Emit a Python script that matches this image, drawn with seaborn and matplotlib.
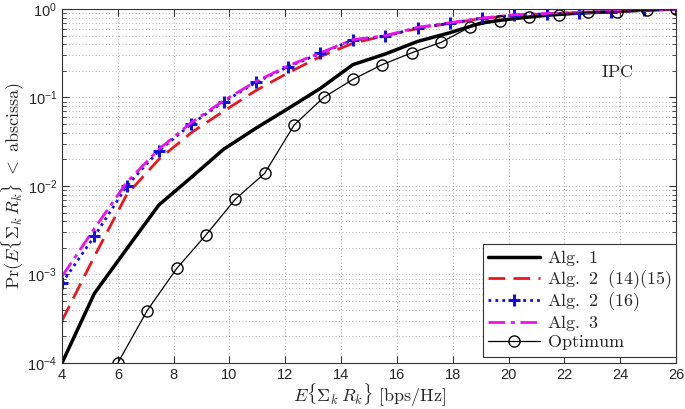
import numpy as np
import pandas as pd
import matplotlib
matplotlib.use("Agg")
import matplotlib.pyplot as plt
import matplotlib.ticker as mticker
import seaborn as sns

# x positions of the algorithm curves and of the optimum curve
x_alg = [4.0, 5.16, 6.32, 7.47, 8.63, 9.79, 10.95, 12.1, 13.26, 14.42,
         15.58, 16.74, 17.9, 19.05, 20.21, 21.37, 22.53, 23.68, 24.84, 26.0]
x_opt = [6.0, 7.05, 8.11, 9.16, 10.21, 11.26, 12.32, 13.37, 14.42, 15.47,
         16.53, 17.58, 18.63, 19.68, 20.74, 21.79, 22.84, 23.89, 24.95, 26.0]

alg1 = [1.0e-4, 6.1e-4, 1.95e-3, 6.1e-3, 0.0125, 0.026, 0.045, 0.075, 0.127, 0.235,
        0.31, 0.43, 0.54, 0.70, 0.78, 0.85, 0.90, 0.93, 0.97, 1.0]
alg2_1415 = [3.0e-4, 1.6e-3, 8.0e-3, 0.020, 0.040, 0.070, 0.12, 0.19, 0.29, 0.41,
             0.50, 0.60, 0.69, 0.78, 0.85, 0.88, 0.91, 0.93, 0.97, 1.0]
alg2_16 = [8.0e-4, 2.7e-3, 0.010, 0.025, 0.050, 0.089, 0.148, 0.223, 0.315, 0.446,
           0.49, 0.615, 0.69, 0.785, 0.855, 0.88, 0.91, 0.93, 0.97, 1.0]
alg3 = [9.5e-4, 3.3e-3, 0.011, 0.026, 0.052, 0.092, 0.152, 0.228, 0.32, 0.45,
        0.50, 0.62, 0.70, 0.79, 0.86, 0.89, 0.92, 0.94, 0.97, 1.0]
optimum = [1.0e-4, 3.9e-4, 1.17e-3, 2.8e-3, 7.1e-3, 0.0139, 0.049, 0.10, 0.16, 0.235,
           0.32, 0.42, 0.63, 0.74, 0.82, 0.86, 0.92, 0.93, 0.97, 1.0]

sns.set_style("ticks")
plt.rcParams["font.family"] = ["Liberation Sans", "DejaVu Sans"]
plt.rcParams["mathtext.fontset"] = "custom"
plt.rcParams["mathtext.rm"] = "Liberation Sans"
plt.rcParams["mathtext.it"] = "Liberation Sans:italic"
plt.rcParams["mathtext.bf"] = "Liberation Sans:bold"

fig = plt.figure(figsize=(6.85, 4.09), dpi=100)
ax = fig.add_axes([0.0905, 0.1125, 0.8965, 0.8655])

sns.lineplot(x=x_alg, y=alg1, ax=ax, color="black", linewidth=2.5,
             label=r"$\mathrm{Alg.\ 1}$")
sns.lineplot(x=x_alg, y=alg2_1415, ax=ax, color="#e8191e", linewidth=2,
             linestyle=(0, (6, 3)), label=r"$\mathrm{Alg.\ 2\ \ (14)(15)}$")
sns.lineplot(x=x_alg, y=alg2_16, ax=ax, color="#1010e0", linewidth=2,
             linestyle=(0, (1, 1.5)), marker="+", markersize=9, markeredgewidth=2.2,
             markeredgecolor="#1010e0", label=r"$\mathrm{Alg.\ 2\ \ (16)}$")
sns.lineplot(x=x_alg, y=alg3, ax=ax, color="#ee10ee", linewidth=2,
             linestyle=(0, (6, 2, 1.5, 2)), label=r"$\mathrm{Alg.\ 3}$")
sns.lineplot(x=x_opt, y=optimum, ax=ax, color="black", linewidth=0.9,
             marker="o", markersize=8, markerfacecolor="none", markeredgecolor="black",
             markeredgewidth=1.0, label=r"$\mathrm{Optimum}$")

ax.set_yscale("log")
ax.set_xlim(4, 26)
ax.set_ylim(1e-4, 1)
ax.set_xticks(np.arange(4, 27, 2))
ax.yaxis.set_major_locator(mticker.LogLocator(base=10, numticks=10))
ax.yaxis.set_minor_locator(mticker.LogLocator(base=10, subs=np.arange(2, 10), numticks=20))
ax.yaxis.set_minor_formatter(mticker.NullFormatter())

ax.grid(True, which="major", axis="both", color="#999999", linestyle=(0, (1, 3)), linewidth=0.6)
ax.grid(True, which="minor", axis="y", color="#999999", linestyle=(0, (1, 3)), linewidth=0.6)
ax.tick_params(which="both", direction="in", top=True, right=True, labelsize=10.5,
               color="#333333")
ax.tick_params(which="major", length=5)
ax.tick_params(which="minor", length=3)
for s in ax.spines.values():
    s.set_linewidth(0.8)
    s.set_color("#333333")

ax.set_xlabel(r"$E\{\Sigma_k\, R_k\}\ \mathrm{[bps/Hz]}$", fontsize=13, math_fontfamily="cm",
              labelpad=0)
ax.set_ylabel(r"$\mathrm{Pr}(E\{\Sigma_k\, R_k\}\ <\ \mathrm{abscissa})$", fontsize=13,
              math_fontfamily="cm", labelpad=1)
ax.text(23.9, 0.19, r"$\mathrm{IPC}$", fontsize=13, math_fontfamily="cm",
        ha="center", va="center")

leg = ax.legend(loc="lower right", bbox_to_anchor=(1.0, 0.017), borderaxespad=0,
                prop={"math_fontfamily": "cm", "size": 13},
                frameon=True, fancybox=False, framealpha=1, edgecolor="#333333",
                borderpad=0.25, labelspacing=0.0, handlelength=2.9, handletextpad=0.35)
leg.get_frame().set_linewidth(0.8)

fig.savefig("out.png", dpi=100)
